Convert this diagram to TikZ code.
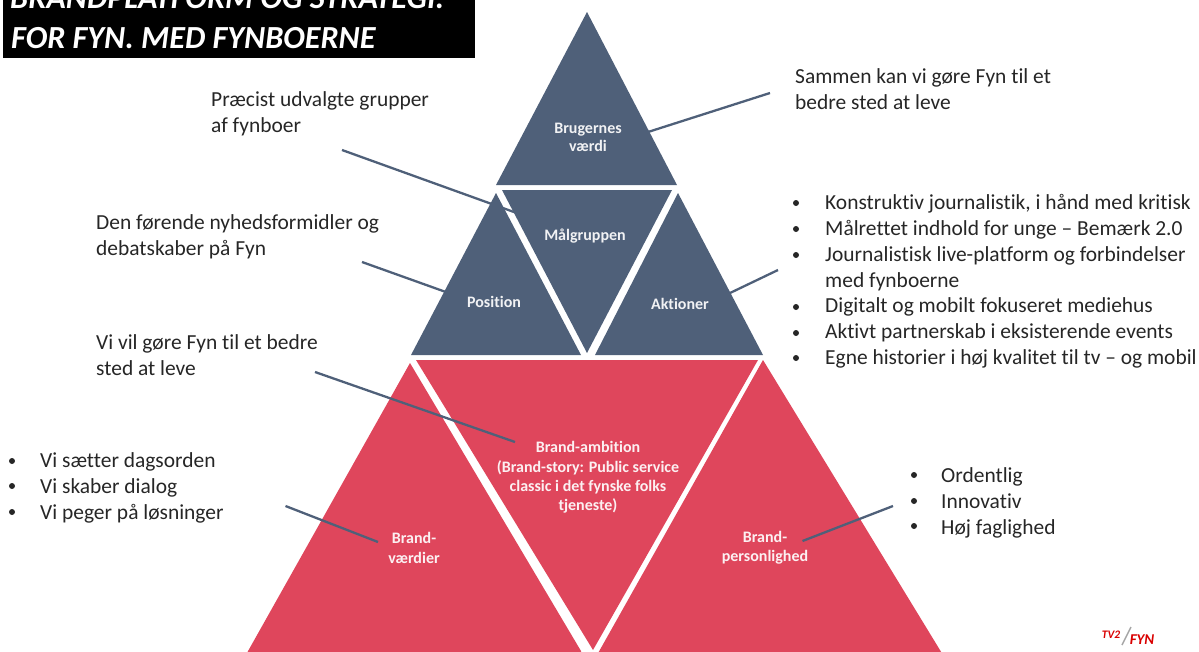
\documentclass[tikz,border=0pt]{standalone}
\usepackage{fontspec}
\setmainfont[Ligatures={TeX,CommonOff}]{Carlito}
\definecolor{slateb}{HTML}{4F6079}
\definecolor{brandred}{HTML}{DF465C}
\definecolor{txt}{HTML}{262626}
\tikzset{
 tri/.style={fill=#1,draw=none},
 lead/.style={draw=slateb,line width=2.3pt},
 intext/.style={text=white!92!slateb,font=\bfseries\fontsize{16}{18}\selectfont,align=center,inner sep=0pt},
 inred/.style={text=white!92!brandred,font=\bfseries\fontsize{16}{19.3}\selectfont,align=center,inner sep=0pt},
 body/.style={text=txt,font=\fontsize{21.45}{25.7}\selectfont,align=left,anchor=north west,inner sep=0pt},
 bul/.style={circle,fill=txt,inner sep=0pt,minimum size=6pt},
 title/.style={text=white,font=\bfseries\itshape\fontsize{32.2}{40}\selectfont,anchor=base west,inner sep=0pt},
}
\begin{document}
\begin{tikzpicture}[x=1pt,y=-1pt]
\useasboundingbox (0,0) rectangle (1199,651);
\clip (0,0) rectangle (1199,651);
% title
\fill[black] (3,-5) rectangle (475,58);
\node[title] (t1) at (10,8) {BRANDPLATFORM OG STRATEGI.};
\node[title] (t2) at (11,48) {FOR FYN. MED FYNBOERNE};
% blue triangles
\fill[tri=slateb] (587,12) -- (677,185) -- (496,185) -- cycle;
\fill[tri=slateb] (496,193) -- (581,355) -- (411,355) -- cycle;
\fill[tri=slateb] (502,190) -- (672,190) -- (587,353) -- cycle;
\fill[tri=slateb] (678,193) -- (763,355) -- (595,355) -- cycle;
% red triangles
\fill[tri=brandred] (410,363) -- (581,651) -- (581,660) -- (243,660) -- cycle;
\fill[tri=brandred] (416,360) -- (758,360) -- (593,650) -- cycle;
\fill[tri=brandred] (763,360) -- (943,655) -- (597,655) -- cycle;
% labels in triangles
\node[intext] (n1) at (588,137.5) {Brugernes\\værdi};
\node[intext] (n2) at (585,236) {Målgruppen};
\node[intext] (n3) at (494,302) {Position};
\node[intext] (n4) at (680,304) {Aktioner};
\node[inred] (n5) at (588,477.5) {Brand-ambition\\(Brand-story: Public service\\classic i det fynske folks\\tjeneste)};
\node[inred] (n6) at (414,548) {Brand-\\værdier};
\node[inred] (n7) at (765,548) {Brand-\\personlighed};
% connectors
\coordinate (c1a) at (770,93); \coordinate (c1b) at (648,132);
\coordinate (c2a) at (342,150); \coordinate (c2b) at (550,225);
\coordinate (c3a) at (362,262); \coordinate (c3b) at (457,296);
\coordinate (c4a) at (778,270); \coordinate (c4b) at (730,293);
\coordinate (c5a) at (315,372); \coordinate (c5b) at (515,442);
\coordinate (c6a) at (285.5,506); \coordinate (c6b) at (378,542);
\coordinate (c7a) at (893,506); \coordinate (c7b) at (802.5,541);
\draw[lead] (c1a) -- (c1b);
\draw[lead] (c2a) -- (c2b);
\draw[lead] (c3a) -- (c3b);
\draw[lead] (c4a) -- (c4b);
\draw[lead] (c5a) -- (c5b);
\draw[lead] (c6a) -- (c6b);
\draw[lead] (c7a) -- (c7b);
% outer text
\node[body] (a) at (795,68.5) {Sammen kan vi gøre Fyn til et\\bedre sted at leve};
\node[body] (b) at (211,91.5) {Præcist udvalgte grupper\\af fynboer};
\node[body] (c) at (96,214.5) {Den førende nyhedsformidler og\\debatskaber på Fyn};
\node[body] (d) at (96,334.5) {Vi vil gøre Fyn til et bedre\\sted at leve};
% right list
\node[body] (r) at (825,194.5) {Konstruktiv journalistik, i hånd med kritisk\\Målrettet indhold for unge – Bemærk 2.0\\Journalistisk live-platform og forbindelser\\med fynboerne\\Digitalt og mobilt fokuseret mediehus\\Aktivt partnerskab i eksisterende events\\Egne historier i høj kvalitet til tv – og mobil};
\foreach \y/\m in {203/r1,229/r2,255/r3,307/r4,333/r5,358/r6}
  \node[bul] (\m) at (796,\y) {};
% left list
\node[body] (l) at (40,452.5) {Vi sætter dagsorden\\Vi skaber dialog\\Vi peger på løsninger};
\foreach \y/\m in {461/l1,486/l2,512/l3}
  \node[bul] (\m) at (12,\y) {};
% right short list
\node[body] (p) at (941,467.5) {Ordentlig\\Innovativ\\Høj faglighed};
\foreach \y/\m in {475/p1,501/p2,526/p3}
  \node[bul] (\m) at (914,\y) {};
% logo
\node[text=red!85!black,font=\bfseries\itshape\fontsize{11.5}{11}\selectfont,inner sep=0pt] (tv) at (1111,635) {TV2};
\node[text=red!85!black,font=\bfseries\itshape\fontsize{15}{14}\selectfont,inner sep=0pt] (fyn) at (1142,640) {FYN};
\coordinate (s1) at (1131,627); \coordinate (s2) at (1122,645);
\draw[gray!70,line width=1.4pt] (s1) -- (s2);
\end{tikzpicture}
\end{document}
